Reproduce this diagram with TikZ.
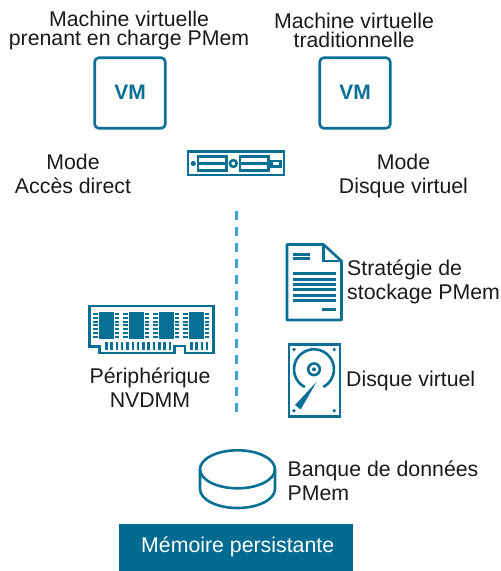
\documentclass[tikz,border=0pt]{standalone}
\usepackage{fontspec}
\setmainfont{Liberation Sans}
\definecolor{ic}{HTML}{0A6F94}
\definecolor{banner}{HTML}{006A91}
\definecolor{dashc}{HTML}{3FA5D8}
\definecolor{tx}{HTML}{1A1A1A}
\tikzset{
  lbl/.style={text=tx,font=\fontsize{21.3}{24}\selectfont,align=center,inner sep=0pt},
  lbltop/.style={text=tx,font=\fontsize{21.3}{20}\selectfont,align=center,inner sep=0pt},
  lbll/.style={text=tx,font=\fontsize{21.3}{24}\selectfont,align=left,inner sep=0pt},
  vmbox/.style={draw=ic,line width=2.6pt,rounded corners=4pt,minimum width=70.5pt,minimum height=70.5pt,text=ic,font=\fontsize{21}{24}\selectfont\bfseries,inner sep=0pt},
  ico/.style={draw=ic,line width=2.6pt},
  icob/.style={draw=ic,line width=3pt},
  icf/.style={fill=ic,draw=none},
}
\begin{document}
\begin{tikzpicture}[x=1pt,y=-1pt]
\useasboundingbox (0,0) rectangle (501,571);
% texts
\node[lbltop] (t1) at (129,30) {Machine virtuelle\\[-1pt]prenant en charge PMem};
\node[lbltop] (t2) at (354,30) {Machine virtuelle\\[-1pt]traditionnelle};
\node[vmbox] (vm1) at (130,93) {\raisebox{2pt}{VM}};
\node[vmbox] (vm2) at (355,93) {\raisebox{2pt}{VM}};
\node[lbl] (m1) at (73,174) {Mode\\Accès direct};
\node[lbl] (m2) at (403.5,176) {Mode\\Disque virtuel};
\node[lbll,anchor=west] (s) at (347,282) {Stratégie de\\stockage PMem};
\node[lbll,anchor=west] (d) at (346,381) {Disque virtuel};
\node[lbl] (p) at (150,388) {Périphérique\\NVDMM};
\node[lbll,anchor=west] (b) at (287.5,481) {Banque de données\\PMem};
\node[fill=banner,text=white,font=\fontsize{21.3}{24}\selectfont,minimum width=234.5pt,minimum height=47pt,inner sep=0pt] (mp) at (236.2,547.3) {\hspace{3pt}\raisebox{-3pt}{Mémoire persistante}};
% server
\draw[ico] (188,151.5) rectangle (284,175);
\fill[ic] (193.3,163.5) circle (2.6);
\draw[ico] (198,156.5) rectangle (226.7,170.5);
\draw[ico] (198,163.5) -- (226.7,163.5);
\draw[ico] (233.3,163.5) circle (3.4);
\draw[ico] (240,156.5) rectangle (268.7,170.5);
\draw[ico] (240,163.5) -- (268.7,163.5);
\draw[ico,line width=2.2pt] (271.5,161) rectangle (280.5,166.5);
% dashed divider
\coordinate (dtop) at (236,211);
\coordinate (dbot) at (236,412);
\draw[dashc,line width=3pt,dash pattern=on 9pt off 7pt] (dtop) -- (dbot);
% document
\draw[ico,line width=2.6pt,line join=round] (287,244.5) -- (323.5,244.5) -- (341.5,261) -- (341.5,320) -- (287,320) -- cycle;
\draw[ico,line width=2.6pt] (323.5,244.5) -- (323.5,261) -- (341.5,261);
\foreach \yy in {254,258.5} \draw[icob] (293.3,\yy) -- (310,\yy);
\foreach \yy in {273.3,279,284.3,289.5,295,300} \draw[icob] (293.3,\yy) -- (336,\yy);
\draw[icob] (322.3,309) -- (336,309);
% hard disk
\draw[ico] (289,344.5) rectangle (340,416.5);
\foreach \px/\py in {294/349.5,334.3/349.5,294/410.7,334.3/410.7} \fill[ic] (\px,\py) circle (1.8);
\draw[ico] (304.9,387.1) arc[start angle=117,end angle=422,radius=20];
\draw[ico] (314,369.3) circle (5.8);
\fill[ic] (314,369.3) circle (2);
\fill[ic] (316.7,381.7) -- (295,405) -- (300.7,409.5) -- cycle;
% RAM
\draw[ico,line join=miter] (89.5,306) -- (213.3,306) -- (213.3,353) -- (185,353) -- (185,346) -- (174.5,346) -- (174.5,353) -- (99.5,353) -- (99.5,346.5) -- (89.5,346.5) -- cycle;
\foreach \cx in {99.3,129.3,159.3,189.3} {
  \fill[ic] (\cx,312) rectangle (\cx+14.3,339.3);
  \foreach \ro in {0,1,...,6} {
    \fill[ic] (\cx-6,313.2+\ro*3.75) rectangle (\cx-1.5,315+\ro*3.75);
    \fill[ic] (\cx+15.3,313.2+\ro*3.75) rectangle (\cx+19.8,315+\ro*3.75);
  }
}
\foreach \ii in {0,1,...,12} \fill[ic] (105+\ii*5.3,342.3) rectangle (107.5+\ii*5.3,349.7);
\foreach \ii in {0,1,2,3} \fill[ic] (190+\ii*5.3,342.3) rectangle (192.5+\ii*5.3,349.7);
% datastore
\draw[ico] (237.5,469.3) ellipse (37.5 and 19);
\draw[ico] (200,469.3) -- (200,489) arc[start angle=180,end angle=0,x radius=37.5,y radius=19] -- (275,469.3);
\end{tikzpicture}
\end{document}
